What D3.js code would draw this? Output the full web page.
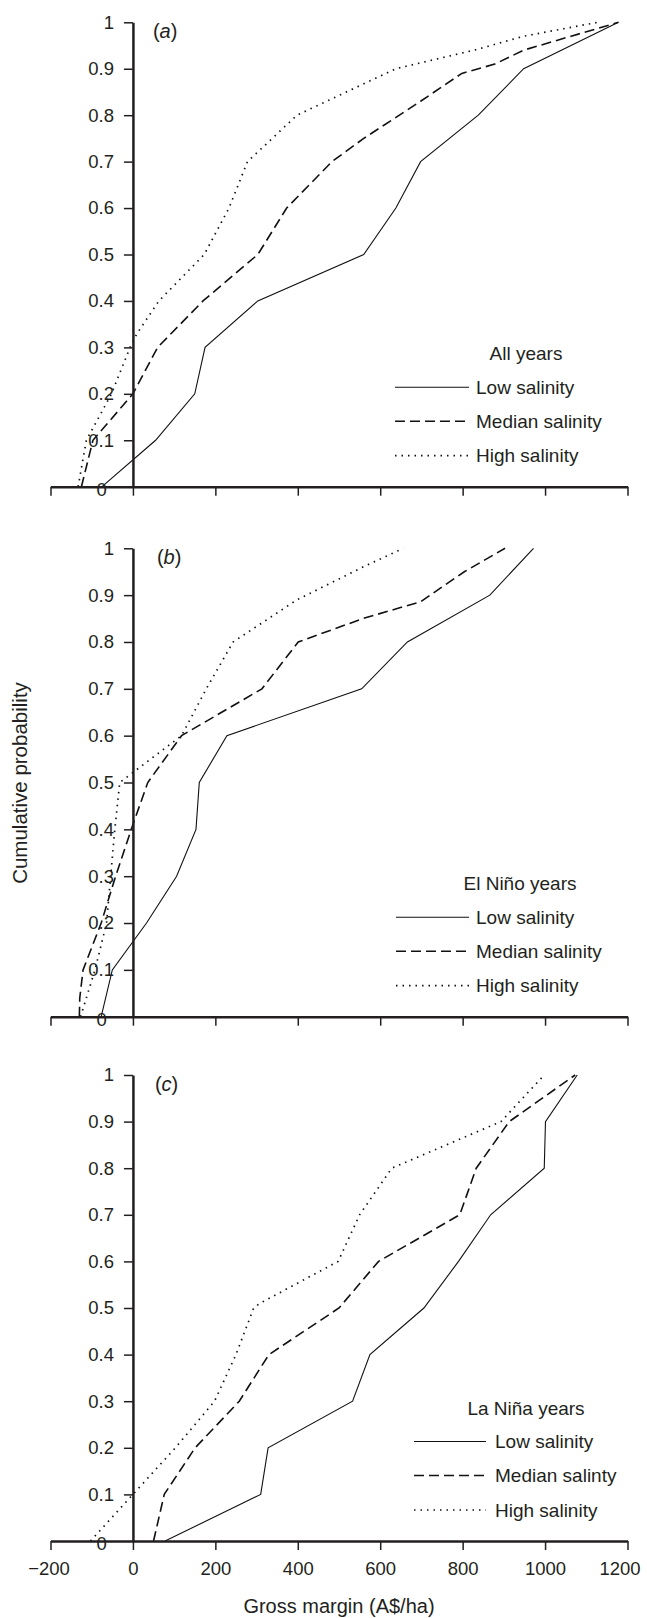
<!DOCTYPE html>
<html>
<head>
<meta charset="utf-8">
<script src="https://cdn.jsdelivr.net/npm/d3@7"></script>
<style>
  body { margin: 0; background: white; }
  text { font-family: "Liberation Sans", Arial, Helvetica, sans-serif; fill: #231f20; }
</style>
</head>
<body>
<div id="container"></div>
<script>
let w = 647;
let h = 1618;

// DATA (gross margin A$/ha, cumulative probability)
let xTicks = [-200, 0, 200, 400, 600, 800, 1000, 1200];
let xTickLabels = ["\u2212200", "0", "200", "400", "600", "800", "1000", "1200"];
let yTicks = [0.1, 0.2, 0.3, 0.4, 0.5, 0.6, 0.7, 0.8, 0.9, 1];
let yTickLabels = ["0.1", "0.2", "0.3", "0.4", "0.5", "0.6", "0.7", "0.8", "0.9", "1"];

let panelLetters = ["a", "b", "c"];
let legendTitles = ["All years", "El Niño years", "La Niña years"];
let seriesNames = [
  ["Low salinity", "Median salinity", "High salinity"],
  ["Low salinity", "Median salinity", "High salinity"],
  ["Low salinity", "Median salinty", "High salinity"]
];

let allLow = [[-75, 0], [55, 0.1], [150, 0.2], [175, 0.3], [303, 0.4], [560, 0.5], [638, 0.6], [698, 0.7], [838, 0.8], [948, 0.9], [1178, 1]];
let allMedian = [[-125, 0], [-97, 0.1], [0, 0.2], [60, 0.3], [170, 0.4], [303, 0.5], [373, 0.6], [483, 0.7], [560, 0.75], [698, 0.83], [798, 0.89], [878, 0.91], [948, 0.94], [1178, 1]];
let allHigh = [[-133, 0], [-113, 0.1], [-52, 0.2], [-7, 0.3], [10, 0.33], [63, 0.4], [173, 0.5], [233, 0.6], [278, 0.7], [398, 0.8], [638, 0.9], [828, 0.94], [948, 0.97], [1128, 1]];

let elNinoLow = [[-77, 0], [-50, 0.1], [33, 0.2], [106, 0.3], [153, 0.4], [161, 0.5], [228, 0.6], [555, 0.7], [666, 0.8], [866, 0.9], [972, 1]];
let elNinoMedian = [[-130, 0], [-129, 0.04], [-121, 0.1], [-77, 0.2], [-42, 0.3], [-4, 0.4], [36, 0.5], [118, 0.6], [313, 0.7], [401, 0.8], [558, 0.85], [698, 0.886], [804, 0.95], [903, 1]];
let elNinoHigh = [[-127, 0], [-92, 0.1], [-64, 0.2], [-54, 0.3], [-44, 0.4], [-32, 0.5], [-2, 0.52], [118, 0.6], [178, 0.7], [243, 0.8], [398, 0.89], [558, 0.96], [656, 1]];

let laNinaLow = [[78, 0], [310, 0.1], [328, 0.2], [533, 0.3], [575, 0.4], [706, 0.5], [790, 0.6], [868, 0.7], [998, 0.8], [1001, 0.9], [1078, 1]];
let laNinaMedian = [[50, 0], [76, 0.1], [151, 0.2], [258, 0.3], [330, 0.4], [500, 0.5], [596, 0.6], [793, 0.7], [833, 0.8], [913, 0.9], [1073, 1]];
let laNinaHigh = [[-103, 0], [0, 0.1], [103, 0.2], [198, 0.3], [250, 0.4], [293, 0.5], [308, 0.51], [498, 0.6], [550, 0.7], [628, 0.8], [893, 0.9], [998, 1]];

let seriesData = [
  [allLow, allMedian, allHigh],
  [elNinoLow, elNinoMedian, elNinoHigh],
  [laNinaLow, laNinaMedian, laNinaHigh]
];

// layout of the three stacked panels
let panels = [
  { top: 22.3, bottom: 486.7, legX1: 395, legX2: 469, legText: 476, titleX: 526, showLabels: false },
  { top: 548.3, bottom: 1016.7, legX1: 396, legX2: 469, legText: 476, titleX: 520, showLabels: false },
  { top: 1075, bottom: 1541, legX1: 414, legX2: 486, legText: 495, titleX: 526, showLabels: true }
];
let legendOffsets = [-99.5, -65.5, -31]; // rows measured up from the x axis
let legendTitleOffset = -133;

let lineStyles = [
  { dash: null, width: 1.1 },
  { dash: "10,5", width: 1.6 },
  { dash: "1.5,5", width: 1.7 }
];

let ink = "#231f20";

let viz = d3.select("#container").append("svg")
    .attr("width", w)
    .attr("height", h)
    .style("background-color", "white")
;

let xScale = d3.scaleLinear().domain([-200, 1200]).range([50.5, 627.5]);

panels.forEach(function(p, i) {
  let yScale = d3.scaleLinear().domain([0, 1]).range([p.bottom, p.top]);
  let g = viz.append("g").attr("class", "panel");

  let lineMaker = d3.line()
      .x(function(d) { return xScale(d[0]); })
      .y(function(d) { return yScale(d[1]); })
  ;

  // curves
  g.selectAll(".curve").data(seriesData[i]).enter()
    .append("path")
      .attr("class", "curve")
      .attr("d", lineMaker)
      .attr("fill", "none")
      .attr("stroke", "#111")
      .attr("stroke-width", function(d, k) { return lineStyles[k].width; })
      .attr("stroke-dasharray", function(d, k) { return lineStyles[k].dash; })
  ;

  // x axis
  let xAxis = d3.axisBottom(xScale)
      .tickValues(xTicks)
      .tickSize(9)
      .tickSizeOuter(0)
      .tickPadding(12)
      .tickFormat(function(d, k) { return p.showLabels ? xTickLabels[k] : ""; })
  ;
  let gx = g.append("g")
      .attr("transform", "translate(0," + p.bottom + ")")
      .call(xAxis);
  gx.select(".domain").attr("stroke", ink).attr("stroke-width", 2.5);
  gx.selectAll(".tick line").attr("stroke", ink).attr("stroke-width", 1.5);
  gx.selectAll(".tick text")
      .style("font-size", "18.5px")
      .attr("fill", ink)
      .attr("dx", function(d) { return d == 1200 ? -8 : (d == -200 ? -2 : 0); });

  // y axis
  let yAxis = d3.axisLeft(yScale)
      .tickValues(yTicks)
      .tickSize(9)
      .tickSizeOuter(0)
      .tickPadding(10)
      .tickFormat(function(d, k) { return yTickLabels[k]; })
  ;
  let gy = g.append("g")
      .attr("transform", "translate(" + xScale(0) + ",0)")
      .call(yAxis);
  gy.select(".domain").attr("stroke", ink).attr("stroke-width", 2.5);
  gy.selectAll(".tick line").attr("stroke", ink).attr("stroke-width", 1.5);
  gy.selectAll(".tick text").style("font-size", "18.5px").attr("fill", ink);

  // the "0" label sits on the x axis
  g.append("text")
      .attr("x", 101.7)
      .attr("y", yScale(0) + 3)
      .attr("dy", "0.35em")
      .attr("text-anchor", "middle")
      .style("font-size", "18.5px")
      .text("0")
  ;

  // panel letter
  let lab = g.append("text")
      .attr("x", xScale(0) + 20 + (i == 2 ? 2 : i * 4))
      .attr("y", p.top + 8.5)
      .attr("dy", "0.35em")
      .style("font-size", "20px")
  ;
  lab.append("tspan").text("(");
  lab.append("tspan").style("font-style", "italic").text(panelLetters[i]);
  lab.append("tspan").text(")");

  // legend
  g.append("text")
      .attr("x", p.titleX)
      .attr("y", p.bottom + legendTitleOffset)
      .attr("dy", "0.35em")
      .attr("text-anchor", "middle")
      .style("font-size", "19px")
      .text(legendTitles[i])
  ;
  seriesNames[i].forEach(function(name, k) {
    let ly = p.bottom + legendOffsets[k];
    g.append("line")
        .attr("x1", p.legX1).attr("x2", p.legX2)
        .attr("y1", ly).attr("y2", ly)
        .attr("stroke", "#111")
        .attr("stroke-width", lineStyles[k].width)
        .attr("stroke-dasharray", lineStyles[k].dash)
    ;
    g.append("text")
        .attr("x", p.legText)
        .attr("y", ly)
        .attr("dy", "0.35em")
        .style("font-size", "19px")
        .text(name)
    ;
  });
});

// axis titles
viz.append("text")
    .attr("transform", "translate(19.5,783) rotate(-90)")
    .attr("text-anchor", "middle")
    .attr("dy", "0.35em")
    .style("font-size", "20.5px")
    .text("Cumulative probability")
;
viz.append("text")
    .attr("x", 339)
    .attr("y", 1613)
    .attr("text-anchor", "middle")
    .style("font-size", "20px")
    .text("Gross margin (A$/ha)")
;
</script>
</body>
</html>
